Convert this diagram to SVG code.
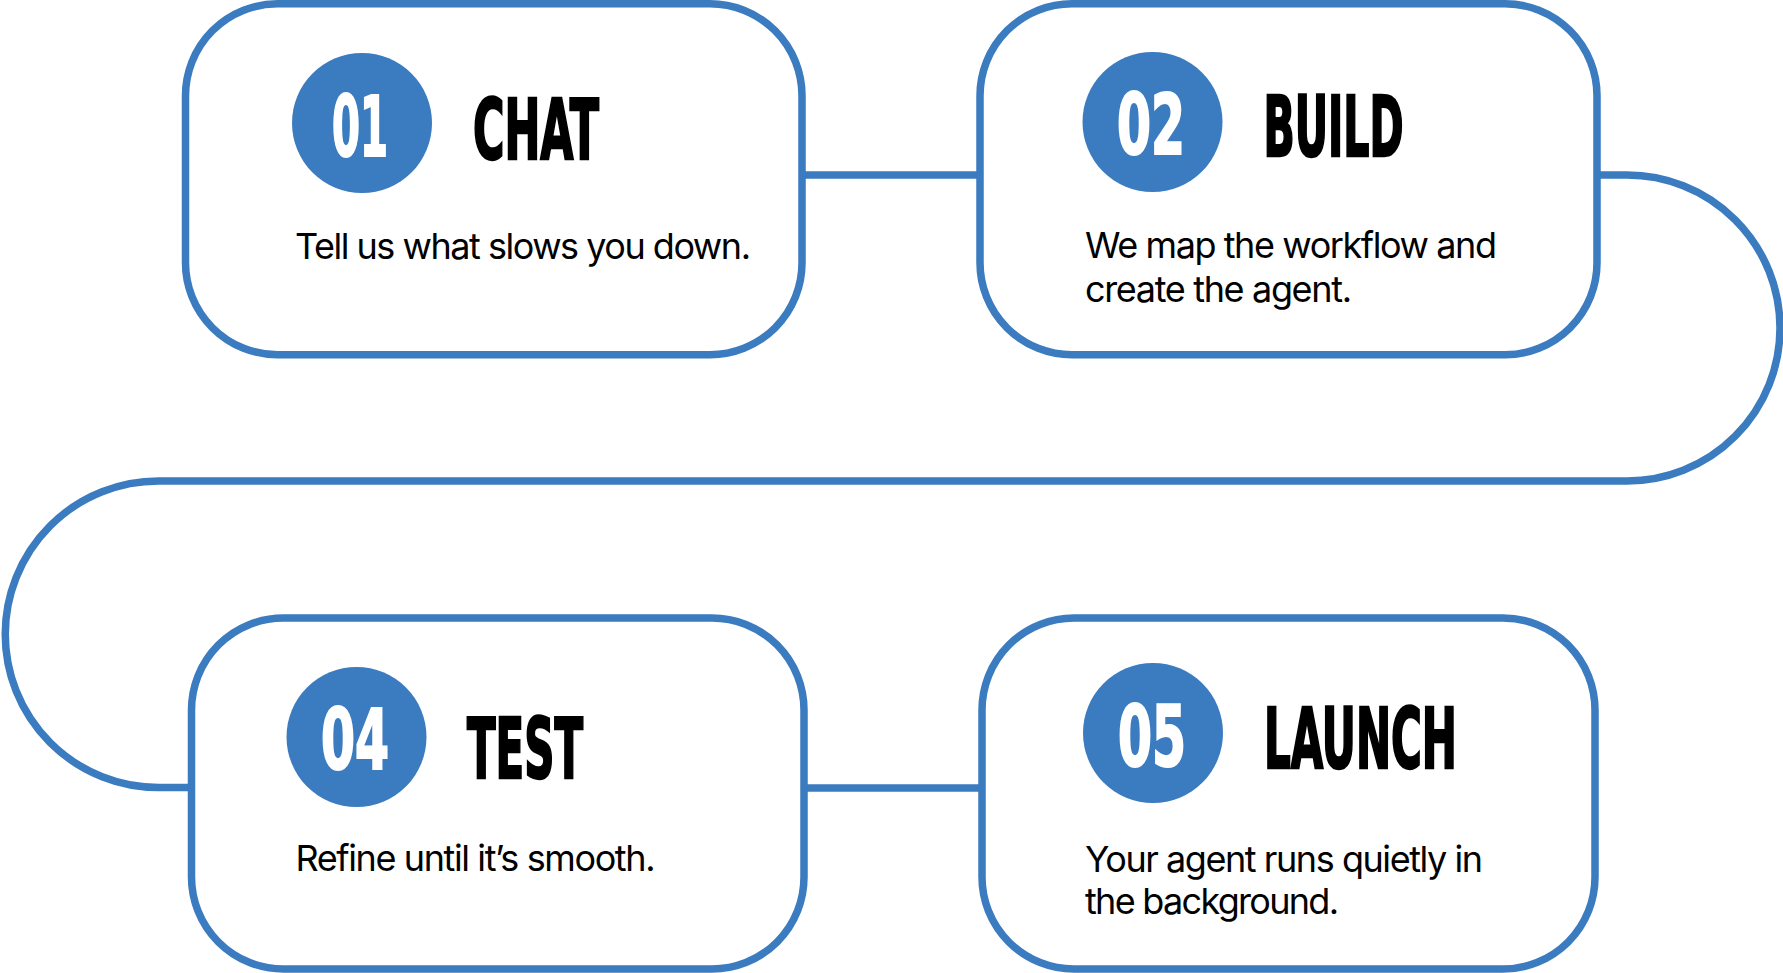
<svg xmlns="http://www.w3.org/2000/svg" width="1783" height="973" viewBox="0 0 1783 973">
<style>
.bg{fill:#ffffff}
.box{fill:#ffffff;stroke:#3B7BBF;stroke-width:7.5}
.conn{fill:none;stroke:#3B7BBF;stroke-width:7.5}
.badge{fill:#3B7BBF}
.num{font-family:"Liberation Sans Narrow","DejaVu Sans Condensed","DejaVu Sans",sans-serif;font-stretch:condensed;font-weight:bold;font-size:84px;fill:#ffffff;stroke:#ffffff;stroke-width:2.2}
.head{font-family:"Liberation Sans Narrow","DejaVu Sans Condensed","DejaVu Sans",sans-serif;font-stretch:condensed;font-weight:bold;font-size:84px;fill:#000000;stroke:#000000;stroke-width:2.4}
.body{font-family:Inter,"Liberation Sans",sans-serif;font-size:36px;fill:#000000}
</style>
<rect class="bg" x="0" y="0" width="1783" height="973"/>
<g id="connectors">
<path class="conn" d="M802,175 H980"/>
<path class="conn" d="M1597,175 H1627 A153,153 0 0 1 1627,481 H158.5 A153.25,153.25 0 0 0 158.5,787.5 H191.5"/>
<path class="conn" d="M804,788 H982"/>
</g>
<g id="step1">
<rect class="box" x="185.5" y="3.75" width="616.5" height="351" rx="92"/>
<circle class="badge" cx="362" cy="123" r="70"/>
<text class="num" x="332" y="156" textLength="56" lengthAdjust="spacingAndGlyphs">01</text>
<text class="head" x="473" y="159" textLength="126" lengthAdjust="spacingAndGlyphs">CHAT</text>
<text class="body" x="295" y="259" textLength="456" lengthAdjust="spacing">Tell us what slows you down.</text>
</g>
<g id="step2">
<rect class="box" x="980" y="3.75" width="617" height="351" rx="92"/>
<circle class="badge" cx="1152.5" cy="122" r="70"/>
<text class="num" x="1117" y="154" textLength="68" lengthAdjust="spacingAndGlyphs">02</text>
<text class="head" x="1263.5" y="156" textLength="140" lengthAdjust="spacingAndGlyphs">BUILD</text>
<text class="body" x="1085" y="258" textLength="412" lengthAdjust="spacing">We map the workflow and</text>
<text class="body" x="1085" y="302" textLength="267" lengthAdjust="spacing">create the agent.</text>
</g>
<g id="step4">
<rect class="box" x="191.5" y="618" width="612.5" height="351" rx="92"/>
<circle class="badge" cx="356.5" cy="737" r="70"/>
<text class="num" x="321" y="769" textLength="68" lengthAdjust="spacingAndGlyphs">04</text>
<text class="head" x="467" y="778" textLength="116" lengthAdjust="spacingAndGlyphs">TEST</text>
<text class="body" x="295.5" y="871" textLength="360" lengthAdjust="spacing">Refine until it’s smooth.</text>
</g>
<g id="step5">
<rect class="box" x="982" y="618" width="613" height="351" rx="92"/>
<circle class="badge" cx="1153" cy="733" r="70"/>
<text class="num" x="1118" y="766" textLength="68" lengthAdjust="spacingAndGlyphs">05</text>
<text class="head" x="1264" y="768" textLength="193" lengthAdjust="spacingAndGlyphs">LAUNCH</text>
<text class="body" x="1085" y="872" textLength="398" lengthAdjust="spacing">Your agent runs quietly in</text>
<text class="body" x="1085" y="914" textLength="254" lengthAdjust="spacing">the background.</text>
</g>
</svg>
